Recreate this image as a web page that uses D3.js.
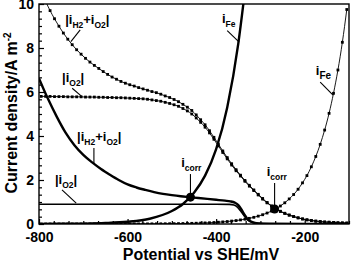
<!DOCTYPE html>
<html>
<head>
<meta charset="utf-8">
<script src="https://cdn.jsdelivr.net/npm/d3@7"></script>
<style>
  body { margin: 0; background: #fff; }
  text { font-family: "Liberation Sans", Arial, sans-serif; font-weight: bold; fill: #000; }
</style>
</head>
<body>
<svg id="chart" width="351" height="261"></svg>
<script>
// sampled (marker) series, every 10 mV
const potential = [
  -795, -785, -775, -765, -755, -745, -735, -725, -715, -705,
  -695, -685, -675, -665, -655, -645, -635, -625, -615, -605,
  -595, -585, -575, -565, -555, -545, -535, -525, -515, -505,
  -495, -485, -475, -465, -455, -445, -435, -425, -415, -405,
  -395, -385, -375, -365, -355, -345, -335, -325, -315, -305,
  -295, -285, -275, -265, -255, -245, -235, -225, -215, -205,
  -195, -185, -175, -165, -155, -145, -135, -125, -115, -105
];
const iH2O2Sim = [
  10.57, 10.12, 9.70, 9.33, 8.99, 8.68, 8.40, 8.15, 7.92, 7.72,
  7.53, 7.36, 7.21, 7.07, 6.93, 6.80, 6.68, 6.58, 6.48, 6.40,
  6.33, 6.27, 6.20, 6.14, 6.08, 6.02, 5.97, 5.90, 5.82, 5.75,
  5.66, 5.56, 5.44, 5.31, 5.16, 4.96, 4.74, 4.51, 4.24, 3.94,
  3.63, 3.32, 3.02, 2.74, 2.47, 2.22, 1.98, 1.76, 1.55, 1.35,
  1.16, 0.98, 0.82, 0.69, 0.58, 0.49, 0.41, 0.34, 0.28, 0.23,
  0.19, 0.16, 0.13, 0.11, 0.09, 0.08, 0.065, 0.055, 0.048, 0.042
];
const iO2Sim = [
  5.80, 5.80, 5.80, 5.79, 5.79, 5.79, 5.78, 5.78, 5.78, 5.78,
  5.77, 5.77, 5.77, 5.76, 5.76, 5.75, 5.75, 5.74, 5.74, 5.73,
  5.72, 5.71, 5.70, 5.69, 5.67, 5.64, 5.61, 5.58, 5.53, 5.48,
  5.42, 5.35, 5.25, 5.14, 5.00, 4.82, 4.62, 4.40, 4.14, 3.85,
  3.55, 3.25, 2.96, 2.68, 2.42, 2.18, 1.94, 1.72, 1.52, 1.32,
  1.13, 0.96, 0.81, 0.68, 0.57, 0.48, 0.40, 0.34, 0.28, 0.23,
  0.19, 0.16, 0.13, 0.11, 0.09, 0.08, 0.065, 0.055, 0.048, 0.042
];
const iFeSim = [
  0.0001, 0.0001, 0.0001, 0.0002, 0.0002, 0.0002, 0.0003, 0.0003, 0.0004, 0.0005,
  0.0006, 0.0007, 0.0008, 0.0009, 0.0011, 0.0013, 0.0015, 0.0018, 0.0021, 0.0025,
  0.0030, 0.0035, 0.0041, 0.0048, 0.0057, 0.0067, 0.0079, 0.0093, 0.011, 0.013,
  0.015, 0.018, 0.021, 0.025, 0.030, 0.035, 0.042, 0.049, 0.058, 0.068,
  0.081, 0.095, 0.112, 0.133, 0.156, 0.185, 0.218, 0.257, 0.303, 0.358,
  0.422, 0.498, 0.587, 0.693, 0.817, 0.964, 1.14, 1.34, 1.58, 1.87,
  2.20, 2.60, 3.07, 3.62, 4.27, 5.03, 5.94, 7.00, 8.26, 9.75
];

// smooth solid curves
const h2o2LineE = [-800, -780, -760, -740, -720, -700, -680, -660, -640, -620,
  -600, -580, -560, -540, -520, -500, -480, -460, -440, -420,
  -400, -380, -368, -358, -350, -343, -336, -328, -318, -305, -280, -200, -100];
const h2o2LineI = [6.62, 5.70, 4.88, 4.15, 3.58, 3.14, 2.80, 2.50, 2.24, 2.00,
  1.80, 1.66, 1.55, 1.45, 1.37, 1.31, 1.26, 1.22, 1.18, 1.14,
  1.10, 1.06, 1.03, 0.97, 0.86, 0.66, 0.42, 0.20, 0.08, 0.03, 0.01, 0.0, 0.0];
const o2LineE = [-800, -400, -370, -360, -352, -345, -337, -328, -318, -305, -280, -200, -100];
const o2LineI = [0.90, 0.90, 0.89, 0.86, 0.77, 0.60, 0.38, 0.18, 0.07, 0.03, 0.01, 0.0, 0.0];
const feLineE = [-800, -750, -700, -650, -600, -550, -500, -475, -450, -425, -400, -375, -350, -335];
const feLineI = [0.004, 0.008, 0.018, 0.043, 0.10, 0.24, 0.59, 0.91, 1.42, 2.2, 3.4, 5.3, 8.2, 10.6];

const corrE = [-458, -268];
const corrI = [1.22, 0.68];

const xTicks = [-800, -600, -400, -200];
const yTicks = [0, 2, 4, 6, 8, 10];

const svg = d3.select('#chart');
const margin = { left: 39, right: 2, top: 4, bottom: 37 };
const width = 351 - margin.left - margin.right;
const height = 261 - margin.top - margin.bottom;

const x = d3.scaleLinear().domain([-800, -100]).range([0, width]);
const y = d3.scaleLinear().domain([0, 10]).range([height, 0]);

const g = svg.append('g').attr('transform', `translate(${margin.left},${margin.top})`);

svg.append('defs').append('clipPath').attr('id', 'clip')
  .append('rect').attr('width', width).attr('height', height);

// axes, ticks pointing inward
const xMinor = d3.range(-800, -99, 200 / 6).filter(v => !xTicks.some(t => Math.abs(t - v) < 1));
const yMinor = d3.range(0, 10.01, 2 / 6).filter(v => !yTicks.some(t => Math.abs(t - v) < 0.01));

const xAxis = g.append('g').attr('transform', `translate(0,${height})`)
  .call(d3.axisBottom(x).tickValues(xTicks).tickSize(-5).tickPadding(8).tickFormat(d3.format('d')));
g.append('g').attr('transform', `translate(0,${height})`)
  .call(d3.axisBottom(x).tickValues(xMinor).tickSize(-3).tickFormat(''));
const yAxis = g.append('g')
  .call(d3.axisLeft(y).tickValues(yTicks).tickSize(-5).tickPadding(5));
g.append('g')
  .call(d3.axisLeft(y).tickValues(yMinor).tickSize(-3).tickFormat(''));

g.selectAll('.domain').remove();
g.selectAll('.tick line').attr('stroke', '#000').attr('stroke-width', 1.2);
g.selectAll('.tick text').attr('font-family', null).attr('font-size', null)
  .style('font-size', '14px').text(function () { return this.textContent.replace('−', '-'); });

const plot = g.append('g').attr('clip-path', 'url(#clip)');
const zip = (a, b) => a.map((v, i) => [v, b[i]]);
const line = d3.line().x(d => x(d[0])).y(d => y(d[1])).curve(d3.curveMonotoneX);

// thin solid |iO2|
plot.append('path').datum(zip(o2LineE, o2LineI))
  .attr('d', line).attr('fill', 'none').attr('stroke', '#000').attr('stroke-width', 1.6);
// thick solid |iH2+iO2|
plot.append('path').datum(zip(h2o2LineE, h2o2LineI))
  .attr('d', line).attr('fill', 'none').attr('stroke', '#000').attr('stroke-width', 2.4);
// thick solid iFe
plot.append('path').datum(zip(feLineE, feLineI))
  .attr('d', line).attr('fill', 'none').attr('stroke', '#000').attr('stroke-width', 2.4);

// simulated series with square markers
[iH2O2Sim, iO2Sim, iFeSim].forEach(series => {
  const pts = zip(potential, series);
  plot.append('path').datum(pts)
    .attr('d', line).attr('fill', 'none').attr('stroke', '#000').attr('stroke-width', 0.9);
  plot.selectAll(null).data(pts).enter().append('rect')
    .attr('x', d => x(d[0]) - 1.4).attr('y', d => y(d[1]) - 1.4)
    .attr('width', 2.8).attr('height', 2.8).attr('fill', '#000');
});

// corrosion points
g.selectAll(null).data(zip(corrE, corrI)).enter().append('circle')
  .attr('cx', d => x(d[0])).attr('cy', d => y(d[1])).attr('r', 4.5).attr('fill', '#000');

// frame
g.append('rect').attr('width', width).attr('height', height)
  .attr('fill', 'none').attr('stroke', '#000').attr('stroke-width', 1.4);

// annotations: text anchor and leader line in data units
const notes = [
  { at: [-741, 9.09], parts: [['|i'], ['H2', 1], ['+i'], ['O2', 1], ['|']], lead: [[-707, 8.82], [-728, 8.29]] },
  { at: [-748, 6.45], parts: [['|i'], ['O2', 1], ['|']], lead: [[-725, 6.17], [-703, 5.79]] },
  { at: [-714, 3.77], parts: [['|i'], ['H2', 1], ['+i'], ['O2', 1], ['|']], lead: [[-676, 3.45], [-676, 2.77]] },
  { at: [-764, 1.82], parts: [['|i'], ['O2', 1], ['|']], lead: [[-748, 1.55], [-716, 0.95]] },
  { at: [-479, 2.57], parts: [['i'], ['corr', 1]], lead: [[-458, 2.27], [-458, 1.32]] },
  { at: [-286, 2.18], parts: [['i'], ['corr', 1]], lead: [[-268, 1.86], [-268, 0.85]] },
  { at: [-387, 9.14], parts: [['i'], ['Fe', 1]], lead: [[-375, 8.79], [-348, 8.27]] },
  { at: [-175, 6.77], parts: [['i'], ['Fe', 1]], lead: [[-165, 6.45], [-136, 5.86]], sub: 10 }
];

notes.forEach(n => {
  const t = g.append('text').attr('x', x(n.at[0])).attr('y', y(n.at[1])).style('font-size', '13px');
  let shift = 0;
  n.parts.forEach(p => {
    const s = p[1] ? 4 : 0;
    t.append('tspan').attr('dy', s - shift)
      .style('font-size', (p[1] ? (n.sub || 8.5) : 13) + 'px').text(p[0]);
    shift = s;
  });
  g.append('line')
    .attr('x1', x(n.lead[0][0])).attr('y1', y(n.lead[0][1]))
    .attr('x2', x(n.lead[1][0])).attr('y2', y(n.lead[1][1]))
    .attr('stroke', '#000').attr('stroke-width', 1.1);
});

// axis titles
svg.append('text').attr('x', 201).attr('y', 259.5).attr('text-anchor', 'middle')
  .style('font-size', '16px').text('Potential vs SHE/mV');

const yt = svg.append('text').attr('transform', 'translate(17,113) rotate(-90)')
  .attr('text-anchor', 'middle').style('font-size', '16px');
yt.append('tspan').text('Current density/A m');
yt.append('tspan').attr('dy', -6).style('font-size', '10px').text('-2');
</script>
</body>
</html>
